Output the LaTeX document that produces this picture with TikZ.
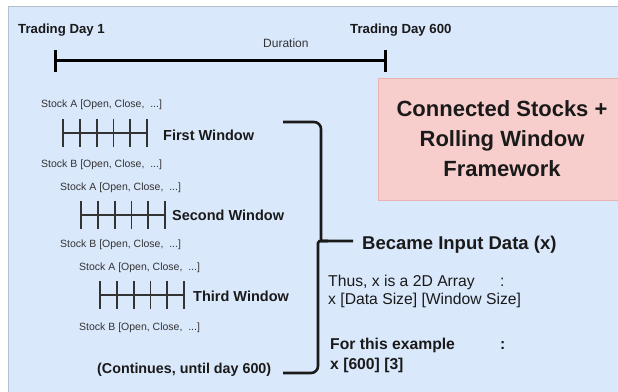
\documentclass[tikz,border=0pt]{standalone}
\usepackage{fontspec}
\setmainfont{Liberation Sans}
\definecolor{bg}{HTML}{DAE8FC}
\definecolor{bgline}{HTML}{B4C0CE}
\definecolor{pinkfill}{HTML}{F8CECC}
\definecolor{pinkline}{HTML}{E9B3B1}
\definecolor{ink}{HTML}{1A1A1A}
\definecolor{inksoft}{HTML}{333333}
\tikzset{
  lbl/.style={inner sep=0pt, text=ink, font=\bfseries\fontsize{14.5}{17}\selectfont},
  small/.style={inner sep=0pt, text=inksoft, font=\fontsize{10.5}{12}\selectfont},
  ladderline/.style={draw=inksoft, line width=1.8pt},
  thick3/.style={draw=black, line width=3pt},
  bracestyle/.style={draw=ink, line width=2.6pt, rounded corners=7pt},
  ladder/.pic={
    \draw[ladderline] (0,0) -- (84,0);
    \foreach \i in {0,...,5} \draw[ladderline] (\i*16.8,-14) -- (\i*16.8,14);
  }
}
\begin{document}
\begin{tikzpicture}[x=1pt,y=-1pt]
\useasboundingbox (0,0) rectangle (618,391);
\fill[white] (0,0) rectangle (618,391);
\draw[draw=bgline, fill=bg, line width=1pt] (8,6.5) rectangle (630,400);

% timeline
\node[lbl, font=\bfseries\fontsize{13.2}{15}\selectfont, anchor=west] (day1) at (18,30) {Trading Day 1};
\node[lbl, font=\bfseries\fontsize{13.2}{15}\selectfont, anchor=west] (day600) at (350,30) {Trading Day 600};
\node[small, font=\fontsize{12}{14}\selectfont, anchor=west] (dur) at (263,43) {Duration};
\coordinate (s) at (55,60);
\coordinate (e) at (385,60);
\draw[thick3] (s) -- (e);
\draw[thick3] ([yshift=-12pt]s) -- ([yshift=10pt]s);
\draw[thick3] ([yshift=-12pt]e) -- ([yshift=10pt]e);

% pink box
\node[draw=pinkline, fill=pinkfill, line width=1pt, minimum width=260pt, minimum height=122pt, anchor=north west, inner sep=0pt] (box) at (378,78) {};
\node[lbl, font=\bfseries\fontsize{22}{30}\selectfont, align=center] (title) at (502,139) {Connected Stocks +\\Rolling Window\\Framework};

% windows
\node[small, anchor=west] (a1) at (41,105) {Stock A [Open, Close,\ \ ...]};
\pic at (63,133) {ladder};
\node[lbl, anchor=west] (w1) at (163,135) {First Window};
\node[small, anchor=west] (b1) at (41,165) {Stock B [Open, Close,\ \ ...]};

\node[small, anchor=west] (a2) at (60,188) {Stock A [Open, Close,\ \ ...]};
\pic at (81,215) {ladder};
\node[lbl, anchor=west] (w2) at (172,215) {Second Window};
\node[small, anchor=west] (b2) at (60,245) {Stock B [Open, Close,\ \ ...]};

\node[small, anchor=west] (a3) at (79,268) {Stock A [Open, Close,\ \ ...]};
\pic at (100,295) {ladder};
\node[lbl, anchor=west] (w3) at (193,296) {Third Window};
\node[small, anchor=west] (b3) at (79,328) {Stock B [Open, Close,\ \ ...]};

\node[lbl, font=\bfseries\fontsize{14.3}{17}\selectfont, anchor=west] (cont) at (97,370) {(Continues, until day 600)};

% brace
\coordinate (tip) at (328,241);
\draw[bracestyle] (283,122) -- (321,122) -- (321,233) .. controls (321,241) .. (tip) -- (353,241);
\draw[bracestyle] (tip) .. controls (318,241) .. (318,250) -- (318,373) -- (283,373);

% right texts
\node[lbl, font=\bfseries\fontsize{18.5}{21}\selectfont, anchor=west] (became) at (362,245) {Became Input Data (x)};
\node[inner sep=0pt, text=ink, font=\fontsize{15.7}{18}\selectfont, anchor=west, align=left] (thus) at (328,291) {\makebox[172pt][l]{Thus, x is a 2D Array}:\\x [Data Size] [Window Size]};
\node[lbl, font=\bfseries\fontsize{15.7}{20}\selectfont, anchor=west, align=left] (ex) at (330,355) {\makebox[170pt][l]{For this example}:\\x [600] [3]};
\end{tikzpicture}
\end{document}
